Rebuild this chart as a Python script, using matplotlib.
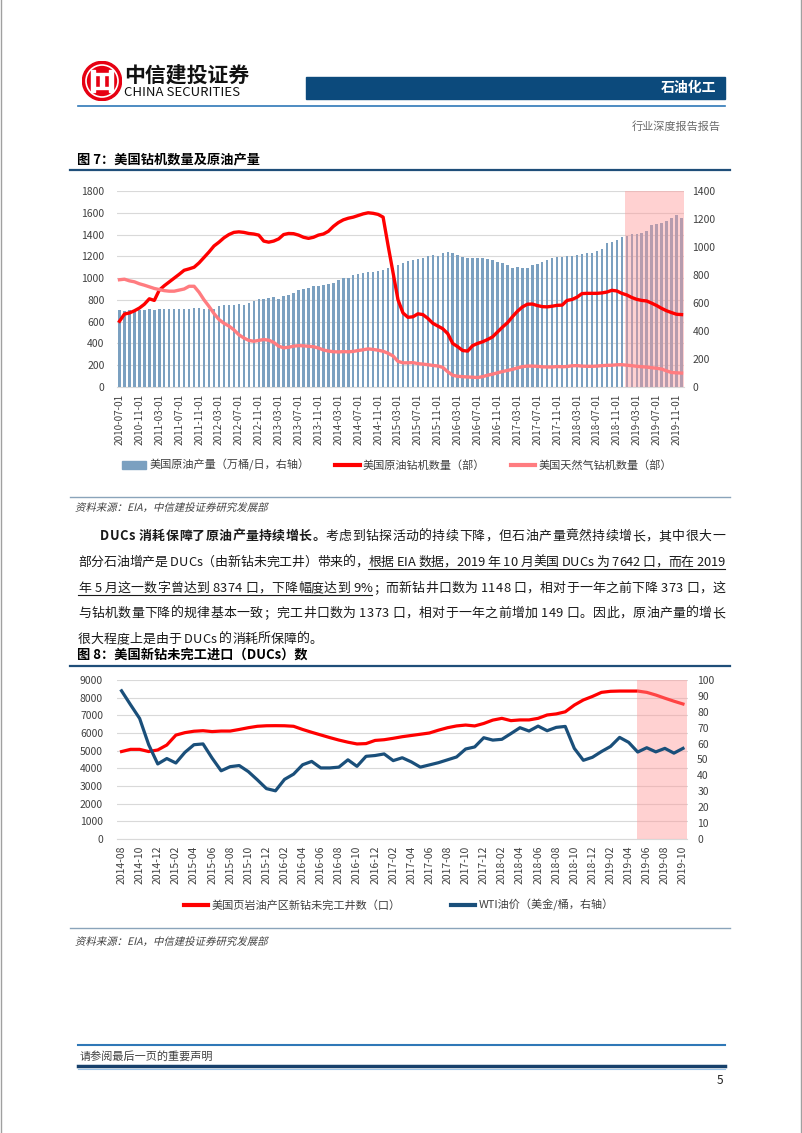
import numpy as np
import pandas as pd
import matplotlib
matplotlib.use('Agg')
import matplotlib.pyplot as plt
from matplotlib.patches import Rectangle, Circle, Patch, PathPatch
from matplotlib.lines import Line2D
from matplotlib.font_manager import FontProperties
from matplotlib.textpath import TextPath
from matplotlib.transforms import Affine2D

plt.rcParams['font.family'] = ['Noto Sans CJK SC', 'DejaVu Sans']

W, H, DPI = 802, 1133, 100

# ---------------- 图7 data: monthly, 2010-07 .. 2019-12
months1 = pd.date_range('2010-07-01', '2019-12-01', freq='MS')
# 美国原油产量（万桶/日，右轴）
oil_prod = [548, 545, 550, 548, 552, 550,
            555, 552, 560, 558, 560, 558,
            560, 560, 558, 562, 562, 560,
            560, 558, 580, 585, 588, 586,
            590, 584, 600, 612, 625, 632,
            636, 640, 625, 650, 660, 672,
            690, 700, 708, 718, 722, 732,
            735, 745, 762, 775, 782, 800,
            808, 815, 818, 822, 825, 838,
            848, 852, 870, 888, 898, 905,
            912, 920, 935, 940, 938, 958,
            962, 955, 940, 925, 920, 920,
            922, 920, 915, 905, 895, 885,
            870, 850, 858, 850, 848, 870,
            875, 890, 905, 918, 928, 930,
            935, 937, 945, 950, 955, 957,
            968, 985, 1025, 1035, 1048, 1068,
            1082, 1092, 1095, 1100, 1112, 1155,
            1165, 1168, 1185, 1210, 1232, 1205]
# 美国原油钻机数量（部）
oil_rigs = [604, 670, 680, 700, 725, 760,
            810, 795, 890, 930, 965, 1000,
            1035, 1072, 1085, 1100, 1140, 1190,
            1240, 1295, 1330, 1370, 1400, 1420,
            1425, 1420, 1410, 1405, 1395, 1340,
            1330, 1340, 1360, 1400, 1410, 1408,
            1395, 1375, 1365, 1375, 1395, 1405,
            1430, 1475, 1510, 1535, 1550, 1560,
            1575, 1590, 1600, 1595, 1585, 1560,
            1300, 1050, 800, 680, 640, 645,
            672, 665, 630, 585, 560, 535,
            490, 400, 370, 335, 330, 380,
            400, 415, 436, 460, 505, 550,
            590, 645, 695, 735, 760, 762,
            748, 738, 736, 742, 750, 752,
            795, 804, 825, 858, 860, 860,
            860, 864, 872, 888, 882, 860,
            845, 822, 805, 795, 790, 770,
            748, 722, 700, 683, 668, 665]
# 美国天然气钻机数量（部）
gas_rigs = [985, 990, 975, 966, 948, 935,
            920, 905, 895, 885, 880, 880,
            890, 900, 925, 925, 870, 800,
            740, 675, 620, 585, 560, 525,
            480, 450, 428, 420, 428, 436,
            430, 410, 375, 360, 365, 375,
            380, 378, 374, 370, 358, 340,
            330, 324, 322, 325, 323, 327,
            335, 342, 350, 345, 338, 328,
            310, 285, 235, 222, 222, 224,
            215, 210, 205, 198, 193, 180,
            140, 108, 98, 95, 92, 90,
            87, 95, 108, 118, 130, 142,
            152, 162, 175, 187, 192, 192,
            190, 185, 184, 184, 188, 186,
            188, 195, 196, 192, 190, 190,
            192, 196, 199, 200, 204, 205,
            200, 196, 190, 186, 183, 177,
            172, 165, 148, 133, 130, 128]
labels1 = ['美国原油产量（万桶/日，右轴）', '美国原油钻机数量（部）', '美国天然气钻机数量（部）']

# ---------------- 图8 data: monthly, 2014-08 .. 2019-10
months2 = pd.date_range('2014-08-01', '2019-10-01', freq='MS')
ducs = [4950, 5075, 5075, 4950, 5040, 5320, 5880, 6020, 6100, 6130,
        6080, 6110, 6110, 6200, 6300, 6380, 6410, 6415, 6410, 6380,
        6200, 6040, 5890, 5740, 5600, 5480, 5380, 5400, 5580, 5620,
        5700, 5790, 5860, 5930, 6000, 6160, 6300, 6400, 6450, 6400,
        6540, 6730, 6830, 6700, 6740, 6740, 6830, 7020, 7080, 7200,
        7580, 7870, 8070, 8300, 8360, 8374, 8374, 8374, 8300, 8150,
        7970, 7800, 7642]
wti = [93.2, 84.4, 75.8, 59.3, 47.2, 50.6, 47.8, 54.5, 59.3, 59.8,
       50.9, 42.9, 45.5, 46.2, 42.4, 37.2, 31.7, 30.3, 37.5, 40.8,
       46.7, 48.8, 44.7, 44.7, 45.2, 49.8, 45.7, 52.0, 52.5, 53.5,
       49.3, 51.1, 48.5, 45.2, 46.6, 48.0, 49.8, 51.6, 56.6, 57.9,
       63.7, 62.2, 62.7, 66.3, 70.0, 67.9, 71.0, 68.1, 70.2, 70.8,
       57.0, 49.5, 51.4, 55.0, 58.2, 63.9, 60.8, 54.7, 57.4, 54.8,
       57.0, 54.0, 57.0]
labels2 = ['美国页岩油产区新钻未完工井数（口）', 'WTI油价（美金/桶，右轴）']

para = [
    [('DUCs 消耗保障了原油产量持续增长。', True, False),
     ('考虑到钻探活动的持续下降，但石油产量竟然持续增长，其中很大一', False, False)],
    [('部分石油增产是 DUCs（由新钻未完工井）带来的，', False, False),
     ('根据 EIA 数据，2019 年 10 月美国 DUCs 为 7642 口，而在 2019', False, True)],
    [('年 5 月这一数字曾达到 8374 口，下降幅度达到 9%', False, True),
     ('；而新钻井口数为 1148 口，相对于一年之前下降 373 口，这', False, False)],
    [('与钻机数量下降的规律基本一致；完工井口数为 1373 口，相对于一年之前增加 149 口。因此，原油产量的增长', False, False)],
    [('很大程度上是由于 DUCs 的消耗所保障的。', False, False)],
]
source = '资料来源：EIA，中信建投证券研究发展部'

BAR_C = '#7ba0c0'
RED = '#ff0000'
PINK = '#ff7c80'
NAVY = '#1a4f7a'
SHADE = '#ff9999'
GRID = '#d9d9d9'
TICK = '#404040'


def fx(px):
    return px / W


def fy(py):
    return 1 - py / H


def italic_text(x_px, base_px, s, size, color):
    # slanted text: CJK fonts here have no italic face
    tp = TextPath((0, 0), s, size=size, prop=FontProperties(size=size))
    tr = Affine2D().skew_deg(13, 0).scale(DPI / 72).translate(x_px, H - base_px)
    fig.add_artist(PathPatch(tp, transform=tr, color=color, lw=0))


fig = plt.figure(figsize=(W / DPI, H / DPI), dpi=DPI)

# page edges
for xe in (0.5, 800.5):
    fig.add_artist(Line2D([fx(xe)] * 2, [0, 1], color='#a0a0a0', lw=1))

# ---------------- header
axlogo = fig.add_axes([fx(82), fy(101), 40 / W, 40 / H])
axlogo.set_xlim(-1, 1)
axlogo.set_ylim(-1, 1)
axlogo.axis('off')
axlogo.add_patch(Circle((0, 0), 0.98, color='#e60012'))
axlogo.add_patch(Circle((0, 0), 0.80, fill=False, ec='white', lw=1.2))
for xc in (-0.45, 0.45):
    axlogo.add_patch(Rectangle((xc - 0.09, -0.55), 0.18, 1.1, color='white'))
axlogo.add_patch(Rectangle((-0.09, -0.35), 0.18, 0.7, color='white'))
axlogo.add_patch(Rectangle((-0.45, 0.28), 0.9, 0.12, color='white'))
axlogo.add_patch(Rectangle((-0.45, -0.40), 0.9, 0.12, color='white'))

fig.text(fx(124), fy(75), '中信建投证券', fontsize=15, fontweight='bold', color='#111111',
         ha='left', va='center')
fig.text(fx(124), fy(93), 'CHINA SECURITIES', fontsize=9.5, fontweight='medium', color='#111111',
         ha='left', va='center')
fig.add_artist(Rectangle((fx(306), fy(99)), fx(725) - fx(306), 22 / H, color='#0c4a7c',
                         transform=fig.transFigure))
fig.text(fx(716), fy(88), '石油化工', color='white', fontsize=10, fontweight='bold',
         ha='right', va='center')
fig.add_artist(Line2D([fx(78), fx(725)], [fy(106)] * 2, color='#2f78b7', lw=1.2))
fig.text(fx(721), fy(127), '行业深度报告报告', color='#6b6b6b', fontsize=8, ha='right', va='center')

# ---------------- 图7
fig.text(fx(77), fy(159), '图 7：美国钻机数量及原油产量', fontsize=9.5, fontweight='bold',
         ha='left', va='center')
fig.add_artist(Line2D([fx(70), fx(730)], [fy(170)] * 2, color='#1f4e79', lw=1.6))

x1 = np.arange(len(months1))
ax1 = fig.add_axes([fx(117), fy(387), (684 - 117) / W, (387 - 191) / H])
axb = ax1.twinx()
axl = ax1.twinx()

ax1.set_ylim(0, 1800)
ax1.set_yticks(range(0, 1801, 200))
ax1.grid(axis='y', color=GRID, lw=0.8)
ax1.set_axisbelow(True)
ax1.set_xlim(-0.5, len(months1) - 0.5)
ax1.set_xticks(x1[::4])
ax1.set_xticklabels(months1[::4].strftime('%Y-%m-%d'), rotation=90)
ax1.tick_params(axis='x', length=0, pad=5, labelsize=7.2, labelcolor=TICK)
ax1.tick_params(axis='y', length=0, pad=9, labelsize=7.5, labelcolor=TICK)

axb.bar(x1, oil_prod, width=0.5, color=BAR_C)
axb.set_ylim(0, 1400)
axb.set_yticks(range(0, 1401, 200))
axb.tick_params(axis='y', length=0, pad=6, labelsize=7.5, labelcolor=TICK)

axl.plot(x1, oil_rigs, color=RED, lw=2.4, solid_joinstyle='round')
axl.plot(x1, gas_rigs, color=PINK, lw=2.4, solid_joinstyle='round')
axl.set_ylim(ax1.get_ylim())
axl.yaxis.set_visible(False)
axl.axvspan(101.7, len(months1) - 0.5, color=SHADE, alpha=0.45, lw=0)

for a in (ax1, axb, axl):
    for s in a.spines.values():
        s.set_visible(False)
ax1.spines['bottom'].set_visible(True)
ax1.spines['bottom'].set_color(GRID)

h1 = [Patch(color=BAR_C), Line2D([], [], color=RED, lw=3), Line2D([], [], color=PINK, lw=3)]
fig.legend(h1, labels1, loc='center', bbox_to_anchor=(fx(397), fy(465)), ncol=3, frameon=False,
           fontsize=8, handlelength=2.2, handletextpad=0.3, columnspacing=2.3, labelcolor='#404040')

fig.add_artist(Line2D([fx(70), fx(730)], [fy(497)] * 2, color='#8aa4ba', lw=1))
italic_text(75, 511, source, 7.5, '#404040')

# ---------------- paragraph (justified char by char)
renderer = fig.canvas.get_renderer()
p_norm = FontProperties(size=9.3)
p_bold = FontProperties(size=9.3, weight='bold')


def advance(ch, prop):
    w2 = renderer.get_text_width_height_descent('|' + ch + '|', prop, ismath=False)[0]
    w0 = renderer.get_text_width_height_descent('||', prop, ismath=False)[0]
    return w2 - w0


para_y = [535, 561, 587, 612, 638]
para_x0 = [100, 78, 78, 78, 78]
for i, line in enumerate(para):
    chars = [(c, b, u) for txt, b, u in line for c in txt]
    advs = [advance(c, p_bold if b else p_norm) for c, b, u in chars]
    last = i == len(para) - 1
    gap = 0 if last else (725 - para_x0[i] - sum(advs)) / (len(chars) - 1)
    x = para_x0[i]
    base = para_y[i] + 5
    ul = []
    for (c, b, u), a in zip(chars, advs):
        if c != ' ':
            fig.text(fx(x), fy(base), c, fontproperties=p_bold if b else p_norm,
                     color='#1a1a1a', ha='left', va='baseline')
        if u:
            ul.append((x, x + a))
        x += a + gap
    if ul:
        fig.add_artist(Line2D([fx(ul[0][0]), fx(ul[-1][1])], [fy(base + 3)] * 2,
                              color='#1a1a1a', lw=0.8))

# ---------------- 图8
fig.text(fx(77), fy(655), '图 8：美国新钻未完工进口（DUCs）数', fontsize=9.5, fontweight='bold',
         ha='left', va='center')
fig.add_artist(Line2D([fx(70), fx(730)], [fy(666)] * 2, color='#1f4e79', lw=1.6))

x2 = np.arange(len(months2))
ax2 = fig.add_axes([fx(117), fy(839), (687.5 - 117) / W, (839 - 680) / H])
ax2r = ax2.twinx()

ax2.plot(x2, ducs, color=RED, lw=2.3, solid_joinstyle='round')
ax2.set_ylim(0, 9000)
ax2.set_yticks(range(0, 9001, 1000))
ax2.grid(axis='y', color=GRID, lw=0.8)
ax2.set_axisbelow(True)
ax2.set_xlim(-0.5, len(months2) - 0.5)
ax2.set_xticks(x2[::2])
ax2.set_xticklabels(months2[::2].strftime('%Y-%m'), rotation=90)
ax2.tick_params(axis='x', length=0, pad=5, labelsize=7.5, labelcolor=TICK)
ax2.tick_params(axis='y', length=0, pad=10, labelsize=7.5, labelcolor=TICK)

ax2r.plot(x2, wti, color=NAVY, lw=2.3, solid_joinstyle='round')
ax2r.set_ylim(0, 100)
ax2r.set_yticks(range(0, 101, 10))
ax2r.tick_params(axis='y', length=0, pad=7, labelsize=7.5, labelcolor=TICK)
ax2r.axvspan(56.9, len(months2) - 0.5, color=SHADE, alpha=0.45, lw=0)

for a in (ax2, ax2r):
    for s in a.spines.values():
        s.set_visible(False)
ax2.spines['bottom'].set_visible(True)
ax2.spines['bottom'].set_color(GRID)

h2 = [Line2D([], [], color=RED, lw=3), Line2D([], [], color=NAVY, lw=3)]
fig.legend(h2, labels2, loc='center', bbox_to_anchor=(fx(399), fy(905)), ncol=2, frameon=False,
           fontsize=8, handlelength=2.2, handletextpad=0.3, columnspacing=4.5, labelcolor='#404040')

fig.add_artist(Line2D([fx(70), fx(730)], [fy(928)] * 2, color='#8aa4ba', lw=1))
italic_text(75, 945, source, 7.5, '#404040')

# ---------------- footer
fig.add_artist(Line2D([fx(78), fx(725)], [fy(1045)] * 2, color='#2f78b7', lw=1.5))
fig.text(fx(80), fy(1056), '请参阅最后一页的重要声明', fontsize=8, color='#404040',
         ha='left', va='center')
fig.add_artist(Line2D([fx(78), fx(725)], [fy(1066)] * 2, color='#17406b', lw=2.5))
fig.add_artist(Line2D([fx(78), fx(725)], [fy(1068.5)] * 2, color='#9dc3e6', lw=0.8))
fig.text(fx(720), fy(1080), '5', fontsize=8.5, color='#222222', ha='center', va='center')

fig.savefig('out.png', dpi=DPI)
